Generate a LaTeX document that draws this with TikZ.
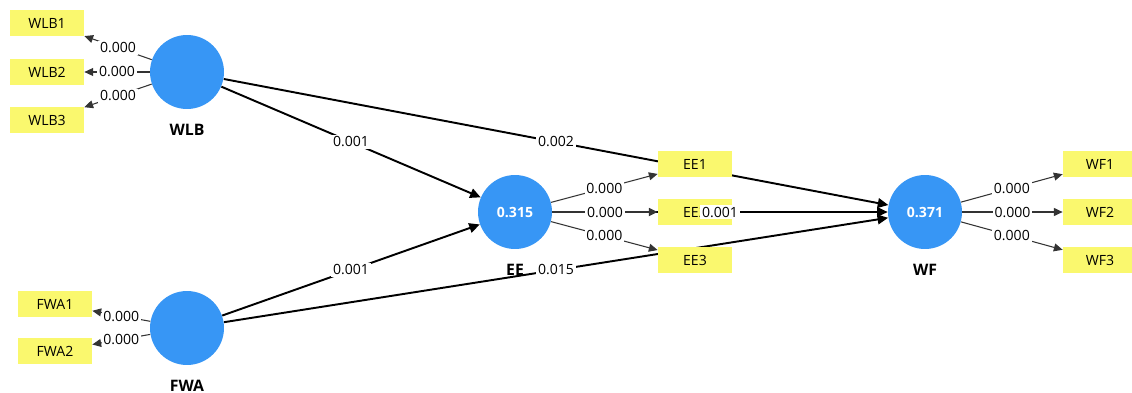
\documentclass[tikz,border=0pt]{standalone}
\usepackage{fontspec}
\setmainfont{Open Sans}
\usetikzlibrary{arrows.meta,backgrounds}
\definecolor{lvblue}{RGB}{55,150,245}
\definecolor{mvyellow}{RGB}{250,248,110}
\tikzset{
	lv/.style={circle,fill=lvblue,minimum size=1.48cm,inner sep=0pt,text=white,font=\bfseries\fontsize{8}{9.6}\selectfont},
	lvname/.style={font=\bfseries\fontsize{9}{11}\selectfont},
	mv/.style={fill=mvyellow,minimum width=1.48cm,minimum height=0.52cm,inner sep=0pt,font=\fontsize{8}{9.6}\selectfont},
	lbl/.style={fill=white,inner sep=1pt,font=\fontsize{8}{9.6}\selectfont},
	outer/.style={draw=black!80,line width=0.6pt,-{Triangle[length=5pt,width=4.5pt]}},
	inner/.style={draw=black,line width=1.1pt,-{Triangle[length=6pt,width=5.5pt]}},
}
\begin{document}
\begin{tikzpicture}[x=0.02cm,y=-0.02cm,label distance=5pt]
	\useasboundingbox (0,0) rectangle (1132,392);
	\node [lv,label={[lvname]-90:WLB}] (WLB) at (187,72) {};
	\node [lv,label={[lvname]-90:FWA}] (FWA) at (187,328) {};
	\node [lv,label={[lvname]-90:EE}] (EE) at (515,212) {0.315};
	\node [lv,label={[lvname]-90:WF}] (WF) at (925,212) {0.371};
	\foreach \n/\y in {1/23,2/72,3/120} \node [mv] (WLB\n) at (47,\y) {WLB\n};
	\foreach \n/\y in {1/304,2/351} \node [mv] (FWA\n) at (55,\y) {FWA\n};
	\foreach \n/\y in {1/164,2/212,3/260} \node [mv] (EE\n) at (695,\y) {EE\n};
	\foreach \n/\y in {1/164,2/212,3/260} \node [mv] (WF\n) at (1100,\y) {WF\n};
	\foreach \n in {1,2,3} \draw [outer] (WLB) -- node [lbl] {0.000} (WLB\n);
	\foreach \n in {1,2} \draw [outer] (FWA) -- node [lbl] {0.000} (FWA\n);
	\foreach \n in {1,3} \draw [outer] (EE) -- node [lbl] {0.000} (EE\n);
	\draw [outer,line width=1.1pt] (EE) -- node [lbl] {0.000} (EE2);
	\foreach \n in {1,3} \draw [outer] (WF) -- node [lbl] {0.000} (WF\n);
	\draw [outer,line width=0.8pt] (WF) -- node [lbl] {0.000} (WF2);
	\begin{pgfonlayer}{background}
		\fill [white] (0,0) rectangle (1132,392);
		\draw [inner] (WLB) -- (EE);
		\draw [inner] (FWA) -- (EE);
		\draw [inner] (WLB) -- (WF);
		\draw [inner] (FWA) -- (WF);
		\draw [inner] (EE) -- (WF);
	\end{pgfonlayer}
	\path (WLB) -- (EE) node [lbl,midway] {0.001};
	\path (FWA) -- (EE) node [lbl,midway] {0.001};
	\path (WLB) -- (WF) node [lbl,midway] {0.002};
	\path (FWA) -- (WF) node [lbl,midway] {0.015};
	\path (EE) -- (WF) node [lbl,midway] {0.001};
\end{tikzpicture}
\end{document}
